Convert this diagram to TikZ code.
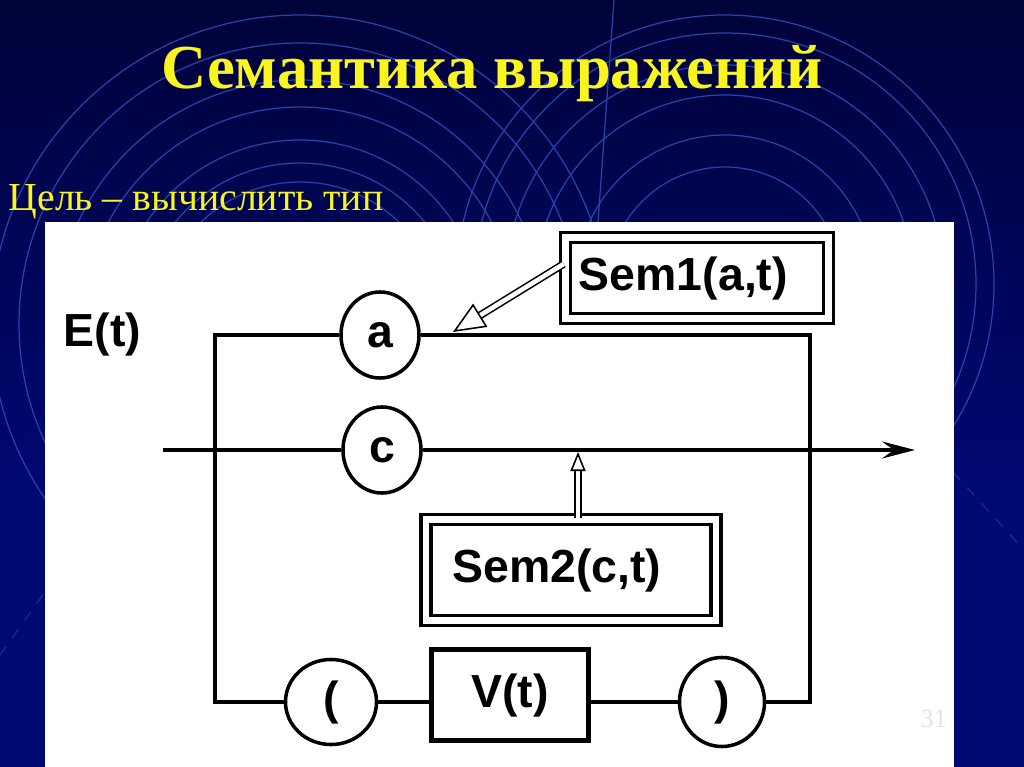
\documentclass[tikz,border=0pt]{standalone}
\usepackage{fontspec}
\setmainfont{Liberation Serif}
\setsansfont{Liberation Sans}
\usetikzlibrary{arrows.meta, positioning, shapes.geometric}

\definecolor{slideyellow}{RGB}{250,245,30}
\definecolor{ringblue}{RGB}{35,68,175}
\definecolor{bgblue}{RGB}{0,8,116}
\definecolor{bgmid}{RGB}{0,3,62}
\definecolor{bgdark}{RGB}{0,0,10}
\pgfdeclareverticalshading{slidebg}{100bp}{color(0bp)=(bgdark); color(22bp)=(bgblue);
  color(42bp)=(bgblue); color(72bp)=(bgmid); color(100bp)=(black)}
\newcommand\diagfont{\sffamily\bfseries\fontsize{13.2}{15}\selectfont}

\begin{document}
\begin{tikzpicture}[x=0.01cm, y=-0.01cm,
  tok/.style={draw=black, ellipse, line width=1pt, inner sep=0pt, fill=white,
              minimum width=0.78cm, minimum height=0.86cm, font=\diagfont},
  dbox/.style={draw=black, double, double distance=1.8pt, line width=1pt,
               fill=white, align=left, inner ysep=0pt, font=\diagfont},
  vbox/.style={draw=black, line width=1.2pt, minimum width=1.57cm,
               minimum height=0.91cm, font=\diagfont},
  wire/.style={line width=1.2pt, draw=black},
  hollow/.style={double, double distance=1.3pt, line width=0.45pt},
  ring/.style={draw=ringblue, line width=0.35pt}
]
  \useasboundingbox (0,0) rectangle (1024,767);

  % ========== BACKGROUND ==========
  \shade[shading=slidebg] (0,0) rectangle (1024,767);
  \begin{scope}
    \clip (0,0) rectangle (1024,767);
    \foreach \r in {142,161,184,217,244,281,309}
      \draw[ring] (300,324) circle[radius=\r];
    \foreach \r in {117,149,189,219,251,269}
      \draw[ring] (725,284) circle[radius=\r];
    \draw[ring] (614,0) -- (598,222);
    \draw[ring, dashed, opacity=0.6] (0,655) -- (45,592);
    \draw[ring, dashed, opacity=0.6] (953,472) -- (1024,550);
  \end{scope}

  % ========== HEADINGS ==========
  \node[anchor=base, inner sep=0pt, text=slideyellow,
        font=\bfseries\fontsize{17.8}{21}\selectfont]
    (title) at (492,89) {Семантика выражений};
  \node[anchor=base west, inner sep=0pt, text=slideyellow,
        font=\fontsize{11.3}{13}\selectfont]
    (goal) at (8,211) {Цель – вычислить тип};

  % ========== PANEL ==========
  \fill[white] (45,222) rectangle (954,767);
  \node[anchor=base west, inner sep=0pt, font=\diagfont] (et) at (63,347) {E(t)};
  \node[anchor=base west, inner sep=0pt, text=black!10,
        font=\fontsize{7.5}{9}\selectfont]
    (pnum) at (920,727) {31};

  % ========== TOKENS ==========
  \node[tok] (a) at (380,335) {a};
  \node[tok] (c) at (382,450) {c};
  \node[tok, minimum width=0.91cm, minimum height=0.85cm] (lp) at (331,702) {(};
  \node[tok, minimum width=0.85cm, minimum height=0.89cm] (rp) at (722,702) {)};
  \node[vbox] (vt) at (510,695) {V(t)};

  % ========== SEMANTIC BOXES ==========
  \node[dbox, inner xsep=0.135cm, text width=2.36cm, minimum height=0.81cm]
    (sem1) at (697,278) {Sem1(a,t)};
  \node[dbox, inner xsep=0.265cm, text width=2.37cm, minimum height=1.01cm]
    (sem2) at (571,570) {Sem2(c,t)};

  \coordinate (tl) at (215,335);
  \coordinate (bl) at (215,702);
  \coordinate (tr) at (810,335);
  \coordinate (br) at (810,702);
  \coordinate (src) at (163,450);
  \coordinate (dst) at (915,450);
  \coordinate (hit1) at (453,332);
  \coordinate (hit2) at (578,452);

  % ======== WIRES ========
  \draw[wire] (a.west) -- (tl) -- (bl) -- (lp.west);
  \draw[wire] (lp.east) -- (lp.east -| vt.west);
  \draw[wire] (rp.west -| vt.east) -- (rp.west);
  \draw[wire] (rp.east) -- (br) -- (tr) -- (a.east);
  \draw[wire] (src) -- (c.west);
  \draw[wire, -{Stealth[length=3.3mm, width=1.7mm, inset=1.2mm]}] (c.east) -- (dst);

  % ======== ARROWS: Sem -> tokens ========
  \draw[hollow, -{Triangle[open, length=3.2mm, width=2.7mm]}] (sem1.174) -- (hit1);
  \draw[hollow, -{Triangle[open, length=1.9mm, width=1.5mm]}] (sem2.north -| hit2) -- (hit2);

\end{tikzpicture}
\end{document}
